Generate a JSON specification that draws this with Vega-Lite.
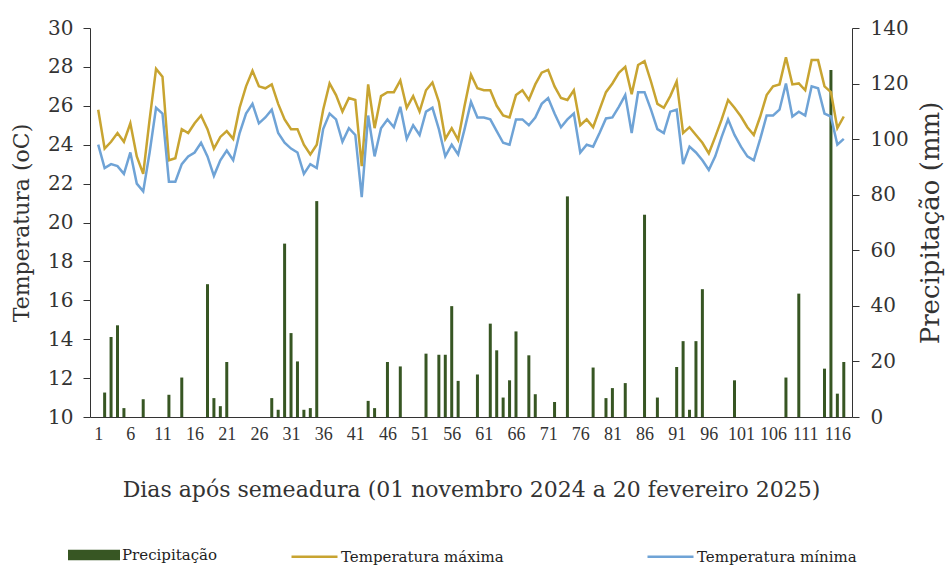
{
  "$schema": "https://vega.github.io/schema/vega-lite/v6.json",
  "width": 762,
  "height": 389,
  "autosize": {"type": "none"},
  "padding": {"left": 90, "top": 28, "right": 100, "bottom": 163},
  "background": "white",
  "config": {
    "view": {"stroke": null},
    "font": "DejaVu Serif",
    "axis": {
      "grid": false,
      "labelFont": "DejaVu Serif",
      "titleFont": "DejaVu Serif",
      "titleFontWeight": "normal",
      "labelColor": "#333",
      "titleColor": "#333",
      "domainColor": "#333",
      "tickColor": "#333"
    }
  },
  "data": {"values": [
    {"day":1,"tmax":25.8,"tmin":24.0},
    {"day":2,"tmax":23.8,"tmin":22.8,"prec":8.8},
    {"day":3,"tmax":24.15,"tmin":23.0,"prec":28.8},
    {"day":4,"tmax":24.6,"tmin":22.9,"prec":33},
    {"day":5,"tmax":24.15,"tmin":22.5,"prec":3.2},
    {"day":6,"tmax":25.1,"tmin":23.6},
    {"day":7,"tmax":23.4,"tmin":22.0},
    {"day":8,"tmax":22.5,"tmin":21.6,"prec":6.4},
    {"day":9,"tmax":25.3,"tmin":23.6},
    {"day":10,"tmax":27.9,"tmin":25.9},
    {"day":11,"tmax":27.5,"tmin":25.6},
    {"day":12,"tmax":23.2,"tmin":22.1,"prec":8.0},
    {"day":13,"tmax":23.3,"tmin":22.1},
    {"day":14,"tmax":24.8,"tmin":23.0,"prec":14.2},
    {"day":15,"tmax":24.6,"tmin":23.4},
    {"day":16,"tmax":25.1,"tmin":23.6},
    {"day":17,"tmax":25.5,"tmin":24.1},
    {"day":18,"tmax":24.8,"tmin":23.4,"prec":47.8},
    {"day":19,"tmax":23.8,"tmin":22.4,"prec":6.8},
    {"day":20,"tmax":24.4,"tmin":23.2,"prec":3.9},
    {"day":21,"tmax":24.7,"tmin":23.7,"prec":19.8},
    {"day":22,"tmax":24.3,"tmin":23.2},
    {"day":23,"tmax":25.9,"tmin":24.6},
    {"day":24,"tmax":27.0,"tmin":25.6},
    {"day":25,"tmax":27.8,"tmin":26.1},
    {"day":26,"tmax":27.0,"tmin":25.1},
    {"day":27,"tmax":26.9,"tmin":25.4},
    {"day":28,"tmax":27.1,"tmin":25.8,"prec":6.8},
    {"day":29,"tmax":26.1,"tmin":24.6,"prec":2.6},
    {"day":30,"tmax":25.3,"tmin":24.1,"prec":62.4},
    {"day":31,"tmax":24.8,"tmin":23.8,"prec":30.2},
    {"day":32,"tmax":24.8,"tmin":23.6,"prec":20},
    {"day":33,"tmax":24.0,"tmin":22.5,"prec":2.6},
    {"day":34,"tmax":23.5,"tmin":23.0,"prec":3.2},
    {"day":35,"tmax":24.0,"tmin":22.8,"prec":77.7},
    {"day":36,"tmax":25.8,"tmin":24.8},
    {"day":37,"tmax":27.15,"tmin":25.6},
    {"day":38,"tmax":26.55,"tmin":25.3},
    {"day":39,"tmax":25.7,"tmin":24.15},
    {"day":40,"tmax":26.4,"tmin":24.85},
    {"day":41,"tmax":26.3,"tmin":24.5},
    {"day":42,"tmax":22.9,"tmin":21.3},
    {"day":43,"tmax":27.1,"tmin":25.5,"prec":5.8},
    {"day":44,"tmax":24.85,"tmin":23.4,"prec":3.2},
    {"day":45,"tmax":26.5,"tmin":24.85},
    {"day":46,"tmax":26.7,"tmin":25.3,"prec":19.8},
    {"day":47,"tmax":26.7,"tmin":24.9},
    {"day":48,"tmax":27.3,"tmin":25.95,"prec":18.2},
    {"day":49,"tmax":25.9,"tmin":24.3},
    {"day":50,"tmax":26.5,"tmin":25.0},
    {"day":51,"tmax":25.7,"tmin":24.5},
    {"day":52,"tmax":26.8,"tmin":25.7,"prec":22.8},
    {"day":53,"tmax":27.2,"tmin":25.9},
    {"day":54,"tmax":26.2,"tmin":24.8,"prec":22.4},
    {"day":55,"tmax":24.3,"tmin":23.4,"prec":22.4},
    {"day":56,"tmax":24.85,"tmin":24.0,"prec":39.9},
    {"day":57,"tmax":24.25,"tmin":23.5,"prec":13},
    {"day":58,"tmax":26.0,"tmin":24.8},
    {"day":59,"tmax":27.6,"tmin":26.2},
    {"day":60,"tmax":26.9,"tmin":25.4,"prec":15.3},
    {"day":61,"tmax":26.8,"tmin":25.4},
    {"day":62,"tmax":26.8,"tmin":25.3,"prec":33.6},
    {"day":63,"tmax":26.0,"tmin":24.7,"prec":24},
    {"day":64,"tmax":25.5,"tmin":24.1,"prec":7},
    {"day":65,"tmax":25.4,"tmin":24.0,"prec":13.2},
    {"day":66,"tmax":26.55,"tmin":25.3,"prec":30.8},
    {"day":67,"tmax":26.8,"tmin":25.3},
    {"day":68,"tmax":26.3,"tmin":25.0,"prec":22.2},
    {"day":69,"tmax":27.1,"tmin":25.4,"prec":8.2},
    {"day":70,"tmax":27.7,"tmin":26.1},
    {"day":71,"tmax":27.85,"tmin":26.4},
    {"day":72,"tmax":27.0,"tmin":25.6,"prec":5.4},
    {"day":73,"tmax":26.4,"tmin":24.9},
    {"day":74,"tmax":26.3,"tmin":25.3,"prec":79.4},
    {"day":75,"tmax":26.8,"tmin":25.6},
    {"day":76,"tmax":25.0,"tmin":23.6},
    {"day":77,"tmax":25.3,"tmin":24.0},
    {"day":78,"tmax":24.9,"tmin":23.9,"prec":17.8},
    {"day":79,"tmax":25.8,"tmin":24.6},
    {"day":80,"tmax":26.7,"tmin":25.35,"prec":6.8},
    {"day":81,"tmax":27.15,"tmin":25.4,"prec":10.4},
    {"day":82,"tmax":27.7,"tmin":25.95},
    {"day":83,"tmax":28.0,"tmin":26.55,"prec":12.2},
    {"day":84,"tmax":26.6,"tmin":24.6},
    {"day":85,"tmax":28.1,"tmin":26.7},
    {"day":86,"tmax":28.3,"tmin":26.7,"prec":72.8},
    {"day":87,"tmax":27.25,"tmin":25.8},
    {"day":88,"tmax":26.1,"tmin":24.8,"prec":7},
    {"day":89,"tmax":25.9,"tmin":24.6},
    {"day":90,"tmax":26.5,"tmin":25.7},
    {"day":91,"tmax":27.25,"tmin":25.8,"prec":18},
    {"day":92,"tmax":24.6,"tmin":23.0,"prec":27.3},
    {"day":93,"tmax":24.9,"tmin":23.9,"prec":2.6},
    {"day":94,"tmax":24.5,"tmin":23.6,"prec":27.3},
    {"day":95,"tmax":24.1,"tmin":23.2,"prec":46},
    {"day":96,"tmax":23.55,"tmin":22.7},
    {"day":97,"tmax":24.4,"tmin":23.4},
    {"day":98,"tmax":25.3,"tmin":24.4},
    {"day":99,"tmax":26.3,"tmin":25.3},
    {"day":100,"tmax":25.9,"tmin":24.5,"prec":13.2},
    {"day":101,"tmax":25.45,"tmin":23.9},
    {"day":102,"tmax":24.9,"tmin":23.4},
    {"day":103,"tmax":24.5,"tmin":23.2},
    {"day":104,"tmax":25.45,"tmin":24.3},
    {"day":105,"tmax":26.55,"tmin":25.5},
    {"day":106,"tmax":27.0,"tmin":25.5},
    {"day":107,"tmax":27.1,"tmin":25.8},
    {"day":108,"tmax":28.5,"tmin":27.15,"prec":14.2},
    {"day":109,"tmax":27.1,"tmin":25.45},
    {"day":110,"tmax":27.15,"tmin":25.7,"prec":44.4},
    {"day":111,"tmax":26.8,"tmin":25.5},
    {"day":112,"tmax":28.35,"tmin":27.0},
    {"day":113,"tmax":28.35,"tmin":26.9},
    {"day":114,"tmax":27.0,"tmin":25.6,"prec":17.4},
    {"day":115,"tmax":26.7,"tmin":25.45,"prec":124.9},
    {"day":116,"tmax":24.85,"tmin":24.0,"prec":8.4},
    {"day":117,"tmax":25.45,"tmin":24.3,"prec":19.8}
  ]},
  "encoding": {
    "x": {
      "field": "day",
      "type": "quantitative",
      "scale": {"domain": [0.5, 117.5], "nice": false, "zero": false},
      "axis": {
        "title": "Dias após semeadura (01 novembro 2024 a 20 fevereiro 2025)",
        "values": [1,6,11,16,21,26,31,36,41,46,51,56,61,66,71,76,81,86,91,96,101,106,111,116],
        "labelAngle": 0,
        "labelFont": "Liberation Serif",
        "labelFontSize": 18,
        "labelPadding": 8,
        "ticks": false,
        "tickSize": 0,
        "titleFontSize": 22,
        "titlePadding": 36,
        "labelFlush": false,
        "labelOverlap": false
      }
    }
  },
  "layer": [
    {
      "mark": {"type": "bar", "size": 3},
      "encoding": {
        "y": {
          "field": "prec",
          "type": "quantitative",
          "scale": {"domain": [0, 140], "nice": false},
          "axis": {
            "orient": "right",
            "title": "Precipitação (mm)",
            "values": [0,20,40,60,80,100,120,140],
            "labelFontSize": 20,
            "tickSize": 7,
            "labelPadding": 11,
            "titleFontSize": 26,
            "titleAngle": 270,
            "titleBaseline": "top",
            "titlePadding": 9
          }
        },
        "fill": {
          "datum": "Precipitação",
          "scale": {"range": ["#375623"]},
          "legend": {
            "orient": "none",
            "legendX": -22,
            "legendY": 501,
            "title": null,
            "symbolType": "M-1,-0.2H1V0.2H-1Z",
            "symbolSize": 2704,
            "symbolStrokeWidth": 0,
            "labelFont": "DejaVu Serif",
            "labelFontSize": 15,
            "labelColor": "#222",
            "labelOffset": 2,
            "labelLimit": 300,
            "padding": 0
          }
        }
      }
    },
    {
      "transform": [{"fold": ["tmax", "tmin"], "as": ["serie", "temp"]}],
      "mark": {"type": "line", "strokeWidth": 2.5},
      "encoding": {
        "y": {
          "field": "temp",
          "type": "quantitative",
          "scale": {"domain": [10, 30], "nice": false, "zero": false},
          "axis": {
            "orient": "left",
            "title": "Temperatura (oC)",
            "values": [10,12,14,16,18,20,22,24,26,28,30],
            "labelFontSize": 20,
            "tickSize": 7,
            "labelPadding": 10,
            "titleFontSize": 22,
            "titlePadding": 14
          }
        },
        "stroke": {
          "field": "serie",
          "type": "nominal",
          "scale": {"domain": ["tmax", "tmin"], "range": ["#c8a431", "#6fa3d6"]},
          "legend": {
            "orient": "none",
            "direction": "horizontal",
            "legendX": 200,
            "legendY": 504,
            "title": null,
            "symbolType": "stroke",
            "symbolSize": 2116,
            "symbolStrokeWidth": 2.5,
            "labelFont": "DejaVu Serif",
            "labelFontSize": 15,
            "labelColor": "#222",
            "labelOffset": 2,
            "labelLimit": 300,
            "columnPadding": 138,
            "padding": 0,
            "labelExpr": "datum.label == 'tmax' ? 'Temperatura máxima' : 'Temperatura mínima'"
          }
        }
      }
    }
  ],
  "resolve": {"scale": {"y": "independent"}}
}
